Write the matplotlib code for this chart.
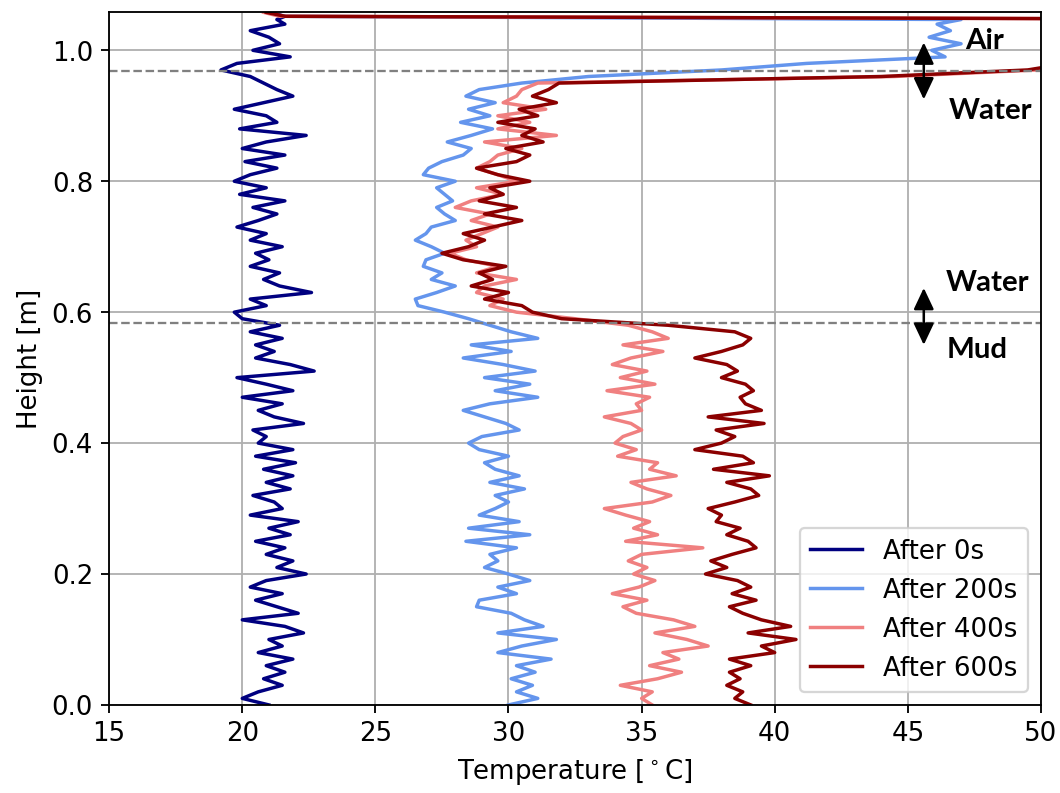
import numpy as np
import matplotlib
matplotlib.use('Agg')
import matplotlib.pyplot as plt

# sample heights (m), top to bottom
h_top = [1.058, 1.052, 1.047]
h_grid = np.round(np.arange(104, -1, -1) / 100, 2)   # 1.04 ... 0.00

# temperatures at the three topmost points
t0_top = [21.0, 21.6, 21.3]
t200_top = [20.9, 21.5, 47.0]
t400_top = [20.8, 21.4, 62.0]
t600_top = [20.9, 21.6, 62.0]

# temperatures on h_grid (1.04 -> 0.00)
t0 = [21.6, 20.3, 21.0, 21.4, 20.4, 21.8, 19.8, 19.2, 20.3,
      20.8, 21.3, 21.9, 20.8, 19.7, 20.9, 21.3, 19.9, 22.4, 20.9,
      20.0, 21.6, 20.1, 21.3, 20.3, 19.7, 20.9, 19.9, 21.6, 20.4,
      21.3, 20.6, 19.8, 20.9, 20.3, 21.5, 20.5, 21.0, 20.3, 21.4,
      20.8, 21.4, 22.6, 20.3, 20.9, 19.7, 20.0, 21.4, 20.3, 21.5,
      20.5, 21.2, 20.5, 21.8, 22.7, 19.8, 20.9, 21.9, 20.0, 21.5,
      20.6, 21.2, 22.3, 20.4, 20.9, 20.6, 21.9, 20.5, 22.0, 20.8,
      21.9, 20.9, 21.8, 20.4, 21.2, 21.5, 20.3, 22.1, 21.0, 21.8,
      20.5, 21.6, 20.9, 21.9, 21.3, 22.4, 20.9, 20.3, 21.5, 20.5,
      21.3, 22.1, 20.0, 21.6, 22.3, 21.0, 21.5, 20.6, 21.9, 20.9,
      21.6, 20.8, 21.5, 20.6, 20.0, 21.0]

t200 = [46.1, 46.6, 45.8, 47.0, 45.9, 46.4, 41.2, 38.0, 33.0,
        30.5, 28.9, 28.4, 29.5, 28.5, 29.3, 28.2, 29.4, 28.6, 27.7,
        28.6, 28.3, 27.5, 27.0, 26.8, 28.0, 27.3, 27.6, 27.9, 27.3,
        27.6, 28.0, 27.1, 26.9, 26.5, 27.1, 27.6, 26.9, 26.8, 27.5,
        27.1, 28.0, 27.3, 26.5, 26.6, 27.6, 28.5, 29.3, 30.1, 31.1,
        28.6, 30.1, 28.3, 29.8, 31.0, 29.1, 30.8, 29.5, 31.1, 29.3,
        28.3, 29.1, 29.9, 30.4, 29.0, 28.5, 28.9, 30.0, 29.1, 29.5,
        30.4, 29.3, 30.6, 29.5, 30.0, 29.5, 28.9, 30.4, 28.5, 30.8,
        28.4, 30.3, 29.3, 29.6, 29.1, 30.0, 30.8, 29.6, 30.3, 28.9,
        28.8, 30.1, 30.6, 31.3, 29.6, 31.8, 30.5, 29.6, 31.6, 30.3,
        31.0, 30.1, 30.9, 30.3, 31.1, 30.0]

t400 = [62.0, 62.0, 62.0, 62.0, 62.0, 62.0, 51.5, 49.9, 44.5,
        31.1, 30.5, 30.3, 29.8, 31.4, 29.6, 30.8, 29.6, 31.8, 29.1,
        30.5, 29.6, 29.3, 28.8, 29.6, 30.3, 28.8, 29.8, 28.6, 28.0,
        29.3, 28.6, 29.6, 29.0, 28.4, 28.8, 27.8, 28.4, 29.6, 28.8,
        30.3, 29.1, 28.8, 29.8, 29.3, 30.3, 32.5, 34.5, 35.4, 36.0,
        34.3, 35.8, 34.6, 33.9, 35.2, 34.2, 35.5, 33.7, 35.3, 34.8,
        35.0, 33.6, 34.6, 35.0, 34.3, 34.0, 34.8, 34.1, 35.6, 35.3,
        36.3, 34.6, 35.2, 36.1, 35.4, 33.6, 34.4, 35.3, 34.7, 35.6,
        34.4, 37.3, 35.0, 34.5, 35.2, 34.7, 35.5, 34.9, 33.9, 35.2,
        34.3, 34.8, 36.2, 37.0, 35.5, 36.7, 37.5, 35.8, 36.4, 35.3,
        36.5, 35.6, 34.2, 35.4, 35.0, 35.4]

t600 = [62.0, 62.0, 62.0, 62.0, 62.0, 62.0, 51.0, 49.5, 44.0,
        31.9, 31.5, 30.9, 31.8, 30.4, 31.1, 29.6, 31.0, 30.5, 31.3,
        29.9, 30.8, 30.3, 28.8, 29.6, 30.8, 29.3, 29.8, 28.9, 30.3,
        29.1, 30.5, 29.4, 28.3, 29.1, 28.5, 27.5, 28.3, 29.9, 28.9,
        29.4, 28.6, 30.0, 29.1, 30.5, 30.9, 32.0, 36.0, 38.5, 39.1,
        38.8, 38.0, 37.0, 38.2, 38.6, 38.0, 38.9, 39.2, 38.7, 38.9,
        39.5, 37.5, 39.6, 37.8, 38.5, 38.0, 37.0, 38.8, 39.2, 37.7,
        39.8, 38.2, 39.1, 39.4, 38.5, 37.5, 38.0, 37.8, 38.7, 38.2,
        39.0, 39.3, 38.4, 37.6, 38.2, 37.4, 38.6, 39.1, 38.4, 39.3,
        38.3, 38.8, 39.5, 40.6, 39.0, 40.8, 39.5, 40.0, 38.3, 39.1,
        38.3, 38.7, 38.2, 38.8, 38.5, 39.1]

labels = ['After 0s', 'After 200s', 'After 400s', 'After 600s']
colors = ['navy', 'cornflowerblue', 'lightcoral', 'darkred']

# interfaces air/water and water/mud
h_air = 0.969
h_mud = 0.583

plt.rcParams['font.size'] = 11.3

fig = plt.figure(figsize=(6.4, 4.79), dpi=165.625)
ax = fig.add_axes([0.103, 0.111, 0.879, 0.873])

heights = list(h_top) + list(h_grid)
series = [t0_top + t0, t200_top + t200, t400_top + t400, t600_top + t600]
for temps, lab, col in zip(series, labels, colors):
    ax.plot(temps, heights, color=col, label=lab)

ax.axhline(h_air, color='gray', ls='--', lw=1)
ax.axhline(h_mud, color='gray', ls='--', lw=1)

ax.set_xlim(15, 50)
ax.set_ylim(0, 1.058)
ax.set_yticks([0.0, 0.2, 0.4, 0.6, 0.8, 1.0])
ax.grid(True)
ax.set_xlabel('Temperature [$^\\circ$C]')
ax.set_ylabel('Height [m]')
ax.legend(loc='lower right')

# layer annotations
arr = dict(arrowstyle='<|-|>,head_length=0.7,head_width=0.33', color='black',
           lw=1.1, shrinkA=0, shrinkB=0)
ax.annotate('', xy=(45.6, 1.012), xytext=(45.6, 0.925), arrowprops=arr)
ax.annotate('', xy=(45.6, 0.637), xytext=(45.6, 0.550), arrowprops=arr)
tkw = dict(family='Lato', weight='bold', fontsize=12.8, ha='center', va='center')
ax.text(47.9, 1.014, 'Air', **tkw)
ax.text(48.1, 0.908, 'Water', **tkw)
ax.text(48.0, 0.645, 'Water', **tkw)
ax.text(47.6, 0.543, 'Mud', **tkw)

plt.savefig('out.png')
